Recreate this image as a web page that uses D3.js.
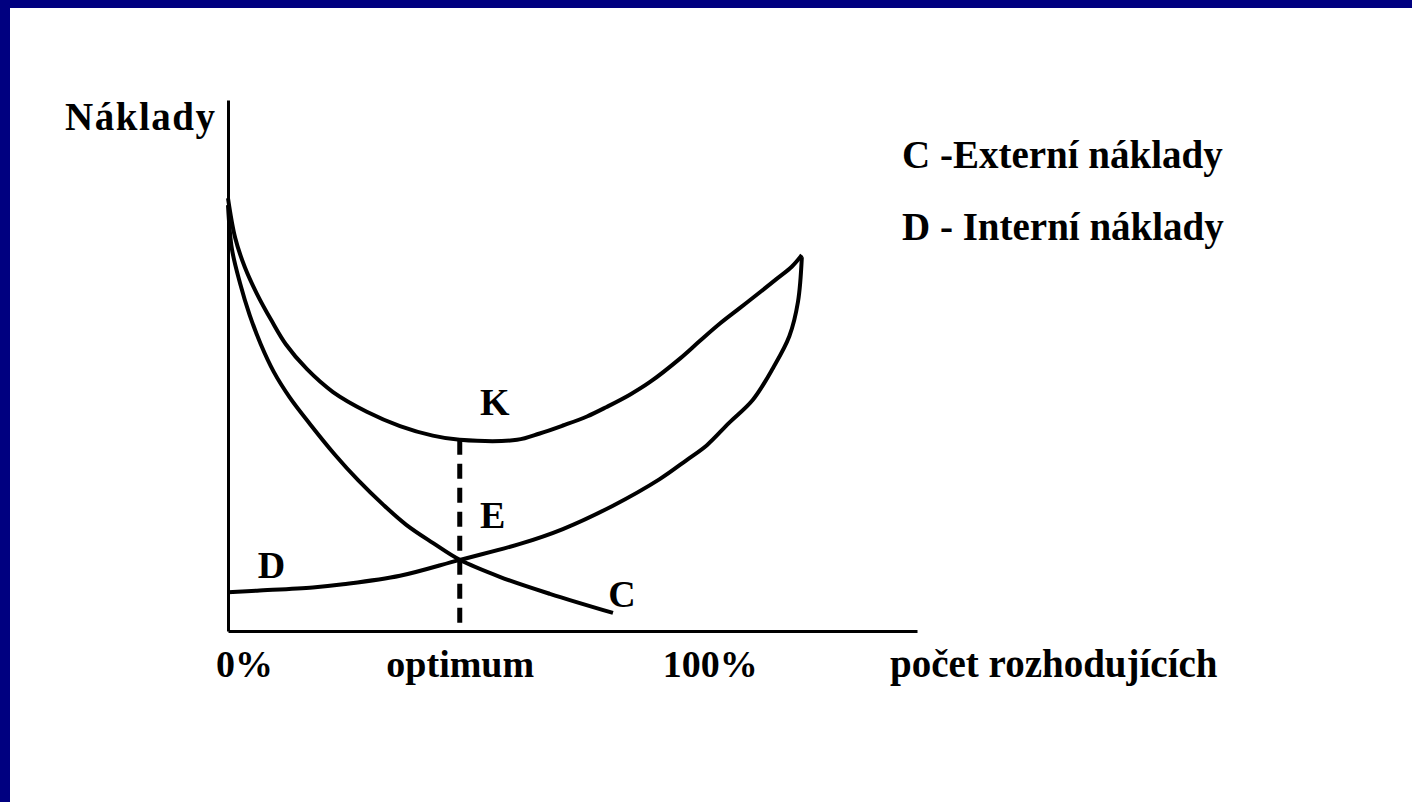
<!DOCTYPE html>
<html>
<head>
<meta charset="utf-8">
<script src="https://cdn.jsdelivr.net/npm/d3@7"></script>
<style>
  html, body { margin: 0; padding: 0; background: #fff; }
  svg text { font-family: "Liberation Serif", "Times New Roman", serif; font-weight: bold; fill: #000; }
</style>
</head>
<body>
<svg id="chart" width="1412" height="802"></svg>
<script>
// x: share of decision makers (%), y: costs (arbitrary units)
var curveK = [ [0,81.5],[1.5,74.0],[3.5,68.5],[6.0,63.5],[9.0,58.5],[12.0,54.0],[16.4,49.3],[21.8,45.0],
  [28.8,41.3],[35.7,38.6],[42.5,36.8],[48.1,36.0],[60.0,36.0],[64.7,37.2],[69.5,38.7],
  [74.5,40.4],[78.6,42.2],[83.4,44.5],[87.6,46.9],[93.8,51.3],[97.9,54.6],[102.1,57.9],[106.2,60.8],
  [110.4,63.8],[114.0,66.4],[117.0,68.6],[119.1,70.8] ];

var curveC = [ [0,80.2],[0.8,72.0],[2.5,65.5],[4.5,59.5],[6.8,54.0],[9.5,48.8],[12.8,44.0],[17.0,39.0],
  [22.2,33.2],[27.0,28.4],[32.2,23.8],[37.0,20.0],[42.5,16.6],[48.1,13.4],[56.4,10.2],[66.8,7.0],[79.9,3.4] ];

var curveD = [ [0,7.3],[6.0,7.6],[17.6,8.2],[23.9,8.8],[35.7,10.4],[48.1,13.4],[60.6,16.4],[69.5,19.2],
  [79.9,23.6],[89.6,28.6],[95.2,32.2],[99.4,35.0],[104.0,39.2],[108.9,43.5],[113.1,49.5],[116.5,55.5],
  [118.3,62.0],[119.1,70.4] ];

var optimum = 48.1;
var tickValues = [ 0, optimum, 100 ];
var tickLabels = [ "0%", "optimum", "100%" ];
var xTitle = "počet rozhodujících";
var yTitle = "Náklady";
var legendLines = [ "C -Externí náklady", "D - Interní náklady" ];
var curveNames = [ "K", "E", "D", "C" ];
var curveNamePos = [ [52.3,40.7], [52.3,19.4], [6.2,10.0], [78.9,4.5] ];

var svg = d3.select( "#chart" );

// slide frame
svg.append( "rect" ).attr( "x", 0 ).attr( "y", 0 ).attr( "width", 1412 ).attr( "height", 8 ).attr( "fill", "#000080" );
svg.append( "rect" ).attr( "x", 0 ).attr( "y", 0 ).attr( "width", 10 ).attr( "height", 802 ).attr( "fill", "#000080" );

var x = d3.scaleLinear().domain( [ 0, 143 ] ).range( [ 228, 917 ] );
var y = d3.scaleLinear().domain( [ 0, 100 ] ).range( [ 631, 100 ] );

// axes: only the lines, labels below
var xAxis = svg.append( "g" )
  .attr( "transform", "translate(0," + y( 0 ) + ")" )
  .call( d3.axisBottom( x ).tickValues( tickValues ).tickSize( 0 ).tickSizeOuter( 0 )
    .tickFormat( function( d, i ){ return tickLabels[ i ]; } ) );
xAxis.select( ".domain" ).attr( "stroke", "#000" ).attr( "stroke-width", 3 );
xAxis.selectAll( ".tick text" )
  .attr( "font-family", null ).attr( "font-size", null )
  .style( "font-size", "38px" )
  .attr( "y", 46 ).attr( "dy", 0 )
  .attr( "dx", function( d, i ){ return i == 0 ? 16 : 0; } );

var yAxis = svg.append( "g" )
  .attr( "transform", "translate(" + x( 0 ) + ",0)" )
  .call( d3.axisLeft( y ).tickValues( [] ).tickSize( 0 ).tickSizeOuter( 0 ) );
yAxis.select( ".domain" ).attr( "stroke", "#000" ).attr( "stroke-width", 3 );

svg.append( "text" ).attr( "x", 65 ).attr( "y", 130 ).style( "font-size", "39px" )
  .attr( "textLength", 150 ).attr( "lengthAdjust", "spacing" ).text( yTitle );
svg.append( "text" ).attr( "x", 890 ).attr( "y", y( 0 ) + 46 ).style( "font-size", "39px" ).text( xTitle );

legendLines.forEach( function( t, i ){
  svg.append( "text" ).attr( "x", 902 ).attr( "y", 168 + i * 72 ).style( "font-size", "39px" ).text( t );
} );

// optimum marker
svg.append( "line" )
  .attr( "x1", x( optimum ) ).attr( "x2", x( optimum ) )
  .attr( "y1", y( 36.0 ) ).attr( "y2", y( 0 ) )
  .attr( "stroke", "#000" ).attr( "stroke-width", 5 )
  .attr( "stroke-dasharray", "15,9" );

var line = d3.line()
  .x( function( d ){ return x( d[ 0 ] ); } )
  .y( function( d ){ return y( d[ 1 ] ); } )
  .curve( d3.curveCatmullRom.alpha( 0.5 ) );

[ curveK, curveC, curveD ].forEach( function( c ){
  svg.append( "path" ).datum( c )
    .attr( "d", line )
    .attr( "fill", "none" )
    .attr( "stroke", "#000" )
    .attr( "stroke-width", 4 )
    .attr( "stroke-linejoin", "round" );
} );

curveNames.forEach( function( n, i ){
  svg.append( "text" )
    .attr( "x", x( curveNamePos[ i ][ 0 ] ) )
    .attr( "y", y( curveNamePos[ i ][ 1 ] ) )
    .style( "font-size", "38px" )
    .text( n );
} );
</script>
</body>
</html>
